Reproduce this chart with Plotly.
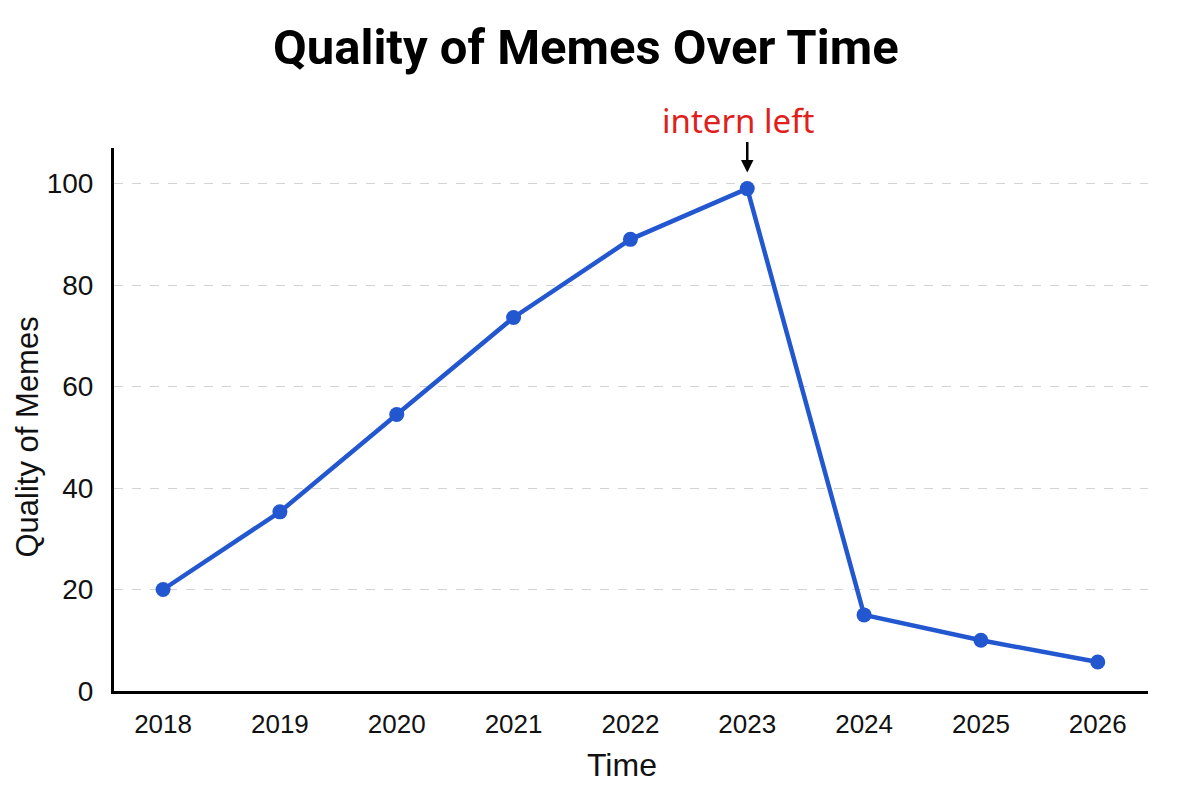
import plotly.graph_objects as go

years = [2018, 2019, 2020, 2021, 2022, 2023, 2024, 2025, 2026]
quality = [20, 35.3, 54.5, 73.6, 89, 99, 15, 10, 5.7]
y_ticks = [0, 20, 40, 60, 80, 100]

LINE_BLUE = "#2257D0"

fig = go.Figure()
fig.add_trace(go.Scatter(
    x=years, y=quality,
    mode="lines+markers",
    line=dict(color=LINE_BLUE, width=4.5),
    marker=dict(color=LINE_BLUE, size=15),
    hoverinfo="x+y",
    showlegend=False,
))

# the "intern left" note: text sits a bit left of the arrow, so two annotations
peak = quality.index(max(quality))
fig.add_annotation(
    x=years[peak], y=quality[peak],
    text="intern left",
    font=dict(family="Noto Sans", size=33, color="#E0201C"),
    showarrow=False, xshift=-9, yshift=68,
)
fig.add_annotation(
    x=years[peak], y=quality[peak],
    text="",
    showarrow=True, arrowhead=2, arrowsize=1, arrowwidth=2.5, arrowcolor="black",
    ax=0, ay=-48, standoff=16,
)

# axis titles as annotations - they sit slightly off-centre in the original
fig.add_annotation(
    text="Time", xref="paper", yref="paper", x=0.5, y=0,
    xanchor="center", yanchor="middle", xshift=-9, yshift=-74,
    showarrow=False, font=dict(size=32),
)
fig.add_annotation(
    text="Quality of Memes", xref="paper", yref="paper", x=0, y=0.5,
    xanchor="center", yanchor="middle", xshift=-87, yshift=-18,
    textangle=-90, showarrow=False, font=dict(size=31),
)

# page body adds an 8px offset, so the figure is a bit smaller than the window
fig.update_layout(
    width=1184, height=784,
    margin=dict(l=106, r=44, t=140, b=101),
    paper_bgcolor="white", plot_bgcolor="white",
    font=dict(family="Liberation Sans, Arial, sans-serif", color="#111"),
    title=dict(
        text="<b>Quality of Memes Over Time</b>",
        x=0.488, xanchor="center", y=0.951, yanchor="middle",
        font=dict(family="Roboto", size=49, color="black"),
    ),
)

fig.update_xaxes(
    range=[2017.58, 2026.43],
    tickvals=years, ticktext=[str(y) for y in years],
    tickfont=dict(size=26),
    showgrid=False, zeroline=False,
    showline=True, linecolor="black", linewidth=3,
    ticks="", ticklabelstandoff=8,
    automargin=False,
)
fig.update_yaxes(
    range=[0, 107],
    tickvals=y_ticks,
    tickfont=dict(size=28),
    showgrid=True, gridcolor="#D3D3D3", griddash="dash", gridwidth=1,
    zeroline=False,
    showline=True, linecolor="black", linewidth=3,
    ticks="", ticklabelstandoff=12,
    automargin=False,
)

fig.write_html("out.html")
